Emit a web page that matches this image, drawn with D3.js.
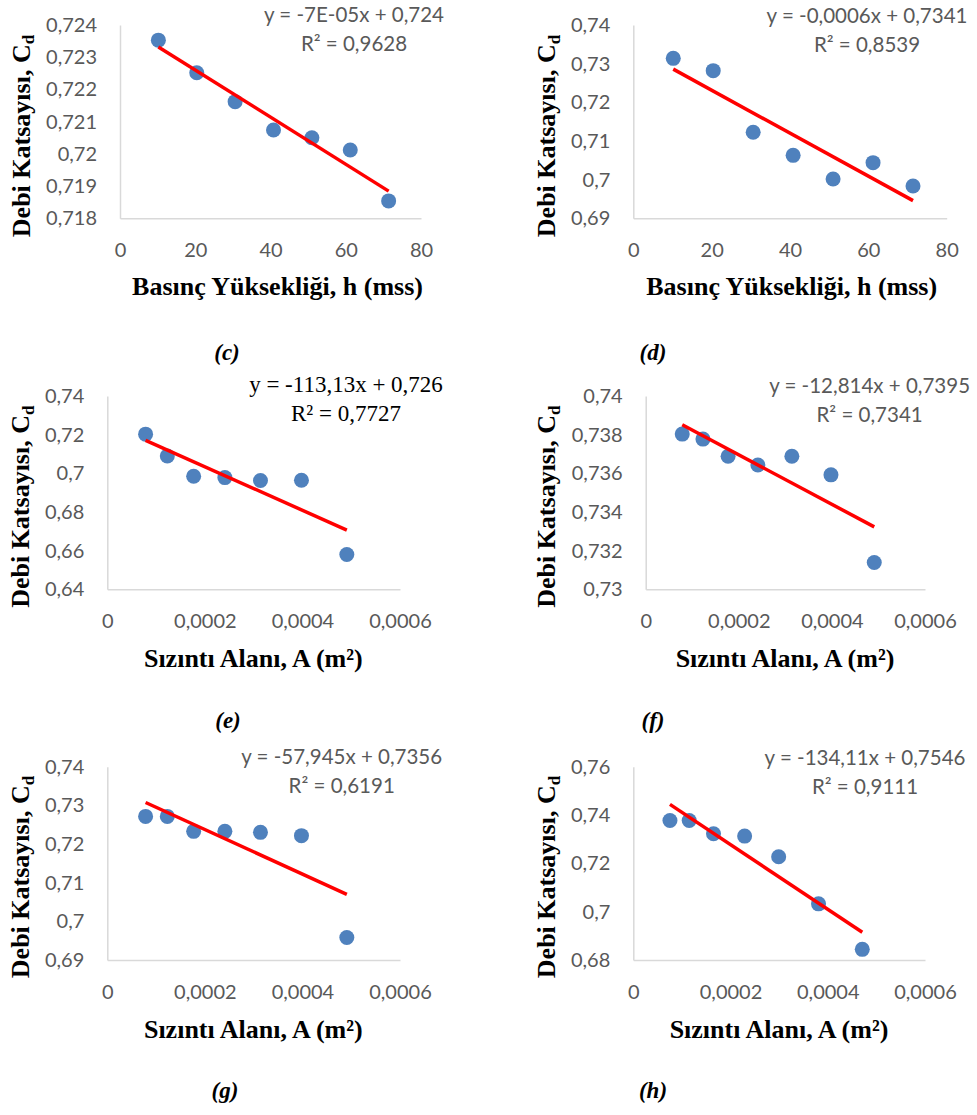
<!DOCTYPE html>
<html>
<head>
<meta charset="utf-8">
<script src="https://cdn.jsdelivr.net/npm/d3@7"></script>
</head>
<body style="margin:0; background:#fff">
<div id="wrapper"></div>
<script>

// 1. Data
const hMss = [10.2, 20.4, 30.6, 40.8, 51.0, 61.2, 71.4]
const cdC = [0.72353, 0.72252, 0.72162, 0.72074, 0.72050, 0.72012, 0.71854]
const cdD = [0.73138, 0.72819, 0.71224, 0.70629, 0.70017, 0.70440, 0.69836]

const areaEFG = [0.0000785, 0.000123, 0.000177, 0.000241, 0.000314, 0.000398, 0.000491]
const cdE = [0.72027, 0.70895, 0.69849, 0.69780, 0.69626, 0.69643, 0.65801]
const cdF = [0.73803, 0.73777, 0.73688, 0.73643, 0.73688, 0.73592, 0.73139]
const cdG = [0.72714, 0.72714, 0.72328, 0.72328, 0.72302, 0.72216, 0.69583]

const areaH = [0.0000754, 0.000115, 0.000165, 0.000229, 0.000299, 0.000381, 0.000471]
const cdH = [0.73773, 0.73773, 0.73223, 0.73127, 0.72275, 0.70323, 0.68440]

const hTicks = [0, 20, 40, 60, 80]
const areaTicks = [0, 0.0002, 0.0004, 0.0006]
const yTicksC = [0.718, 0.719, 0.72, 0.721, 0.722, 0.723, 0.724]
const yTicksD = [0.69, 0.7, 0.71, 0.72, 0.73, 0.74]
const yTicksE = [0.64, 0.66, 0.68, 0.7, 0.72, 0.74]
const yTicksF = [0.73, 0.732, 0.734, 0.736, 0.738, 0.74]
const yTicksG = [0.69, 0.7, 0.71, 0.72, 0.73, 0.74]
const yTicksH = [0.68, 0.7, 0.72, 0.74, 0.76]

const equations = {
    c: ['y = -7E-05x + 0,724', 'R² = 0,9628'],
    d: ['y = -0,0006x + 0,7341', 'R² = 0,8539'],
    e: ['y = -113,13x + 0,726', 'R² = 0,7727'],
    f: ['y = -12,814x + 0,7395', 'R² = 0,7341'],
    g: ['y = -57,945x + 0,7356', 'R² = 0,6191'],
    h: ['y = -134,11x + 0,7546', 'R² = 0,9111']
}

const yTitle = 'Debi Katsayısı, C'
const xTitleH = 'Basınç Yüksekliği, h (mss)'
const xTitleA = 'Sızıntı Alanı, A (m²)'

const SANS = 'Lato'
const SERIF = '"Liberation Serif"'

// 2. Canvas
const wrapper = d3.select('#wrapper')
    .append('svg')
        .attr('width', 977)
        .attr('height', 1115)

wrapper.append('rect')
    .attr('width', 977)
    .attr('height', 1115)
    .attr('fill', '#fff')

const commaFormat = v => String(v).replace('.', ',')

// least squares fit for the red trend line
function linearFit(xs, ys) {
    const mx = d3.mean(xs), my = d3.mean(ys)
    const sxy = d3.sum(xs, (x, i) => (x - mx) * (ys[i] - my))
    const sxx = d3.sum(xs, x => (x - mx) * (x - mx))
    const slope = sxy / sxx
    return { slope, intercept: my - slope * mx }
}

// 3. One panel
function drawPanel(p) {
    const dataset = p.xs.map((x, i) => ({ x, y: p.ys[i] }))

    const xScale = d3.scaleLinear()
        .domain(d3.extent(p.xTicks))
        .range([p.left, p.right])
    const yScale = d3.scaleLinear()
        .domain(d3.extent(p.yTicks))
        .range([p.bottom, p.top])

    const g = wrapper.append('g')

    // axes
    const xAxis = g.append('g')
        .attr('transform', `translate(0,${p.bottom})`)
        .call(d3.axisBottom(xScale).tickValues(p.xTicks).tickFormat(commaFormat)
            .tickSize(0).tickPadding(25))
    const yAxis = g.append('g')
        .attr('transform', `translate(${p.left},0)`)
        .call(d3.axisLeft(yScale).tickValues(p.yTicks).tickFormat(commaFormat)
            .tickSize(0).tickPadding(23))

    ;[xAxis, yAxis].forEach(ax => {
        ax.select('.domain').attr('stroke', '#d9d9d9').attr('stroke-width', 1.5)
        ax.selectAll('text')
            .attr('fill', '#595959')
            .style('font-family', SANS)
            .style('font-size', '20px')
    })

    // points
    g.selectAll('circle')
        .data(dataset)
        .enter().append('circle')
            .attr('cx', d => xScale(d.x))
            .attr('cy', d => yScale(d.y))
            .attr('r', 7.5)
            .attr('fill', '#4f81bd')

    // trend line
    const fit = linearFit(p.xs, p.ys)
    const xEnds = d3.extent(p.xs)
    g.append('line')
        .attr('x1', xScale(xEnds[0]))
        .attr('y1', yScale(fit.slope * xEnds[0] + fit.intercept))
        .attr('x2', xScale(xEnds[1]))
        .attr('y2', yScale(fit.slope * xEnds[1] + fit.intercept))
        .attr('stroke', '#ff0000')
        .attr('stroke-width', 3.5)

    // equation
    const eq = g.append('text')
        .attr('text-anchor', 'middle')
        .attr('fill', p.serifEq ? '#000' : '#595959')
        .style('font-family', p.serifEq ? SERIF : SANS)
        .style('font-size', p.serifEq ? '23px' : '20.5px')
    eq.append('tspan').attr('x', p.eqX).attr('y', p.eqY).text(p.eq[0])
    eq.append('tspan').attr('x', p.eqX).attr('y', p.eqY + 28.5).text(p.eq[1])

    // axis titles
    g.append('text')
        .attr('text-anchor', 'middle')
        .attr('x', p.xTitleX)
        .attr('y', p.xTitleY)
        .style('font-family', SERIF)
        .style('font-size', '26px')
        .style('font-weight', 'bold')
        .text(p.xTitle)

    const yt = g.append('text')
        .attr('text-anchor', 'middle')
        .attr('transform', `translate(${p.yTitleX},${p.yTitleY}) rotate(-90)`)
        .style('font-family', SERIF)
        .style('font-size', '26px')
        .style('font-weight', 'bold')
    yt.append('tspan').text(yTitle)
    yt.append('tspan').attr('dy', '0.28em').style('font-size', '17px').text('d')

    // caption
    g.append('text')
        .attr('text-anchor', 'middle')
        .attr('x', p.capX)
        .attr('y', p.capY)
        .style('font-family', SERIF)
        .style('font-size', '23px')
        .style('font-weight', 'bold')
        .style('font-style', 'italic')
        .text(p.caption)
}

// 4. Panels
drawPanel({ xs: hMss, ys: cdC, xTicks: hTicks, yTicks: yTicksC, eq: equations.c,
    left: 120, right: 421, top: 25, bottom: 218.3,
    eqX: 354, eqY: 22, xTitle: xTitleH, xTitleX: 277.5, xTitleY: 295,
    yTitleX: 29.5, yTitleY: 136, caption: '(c)', capX: 227, capY: 360 })

drawPanel({ xs: hMss, ys: cdD, xTicks: hTicks, yTicks: yTicksD, eq: equations.d,
    left: 633.3, right: 946.7, top: 25, bottom: 218.3,
    eqX: 867, eqY: 23, xTitle: xTitleH, xTitleX: 791.7, xTitleY: 295,
    yTitleX: 555, yTitleY: 136, caption: '(d)', capX: 653, capY: 360 })

drawPanel({ xs: areaEFG, ys: cdE, xTicks: areaTicks, yTicks: yTicksE, eq: equations.e, serifEq: true,
    left: 107.3, right: 400, top: 396, bottom: 589.3,
    eqX: 346, eqY: 392, xTitle: xTitleA, xTitleX: 253.3, xTitleY: 666.5,
    yTitleX: 29.3, yTitleY: 506.7, caption: '(e)', capX: 228, capY: 728 })

drawPanel({ xs: areaEFG, ys: cdF, xTicks: areaTicks, yTicks: yTicksF, eq: equations.f,
    left: 645.7, right: 925, top: 396, bottom: 589.3,
    eqX: 869.6, eqY: 393.3, xTitle: xTitleA, xTitleX: 785, xTitleY: 666.5,
    yTitleX: 555, yTitleY: 506.7, caption: '(f)', capX: 653, capY: 728 })

drawPanel({ xs: areaEFG, ys: cdG, xTicks: areaTicks, yTicks: yTicksG, eq: equations.g,
    left: 107.3, right: 400, top: 766.7, bottom: 960,
    eqX: 341.7, eqY: 764, xTitle: xTitleA, xTitleX: 253.3, xTitleY: 1037.5,
    yTitleX: 29.3, yTitleY: 877, caption: '(g)', capX: 225, capY: 1098 })

drawPanel({ xs: areaH, ys: cdH, xTicks: areaTicks, yTicks: yTicksH, eq: equations.h,
    left: 633.3, right: 925, top: 766.7, bottom: 960,
    eqX: 865, eqY: 765, xTitle: xTitleA, xTitleX: 779, xTitleY: 1037.5,
    yTitleX: 555, yTitleY: 877, caption: '(h)', capX: 653, capY: 1098 })

</script>
</body>
</html>
